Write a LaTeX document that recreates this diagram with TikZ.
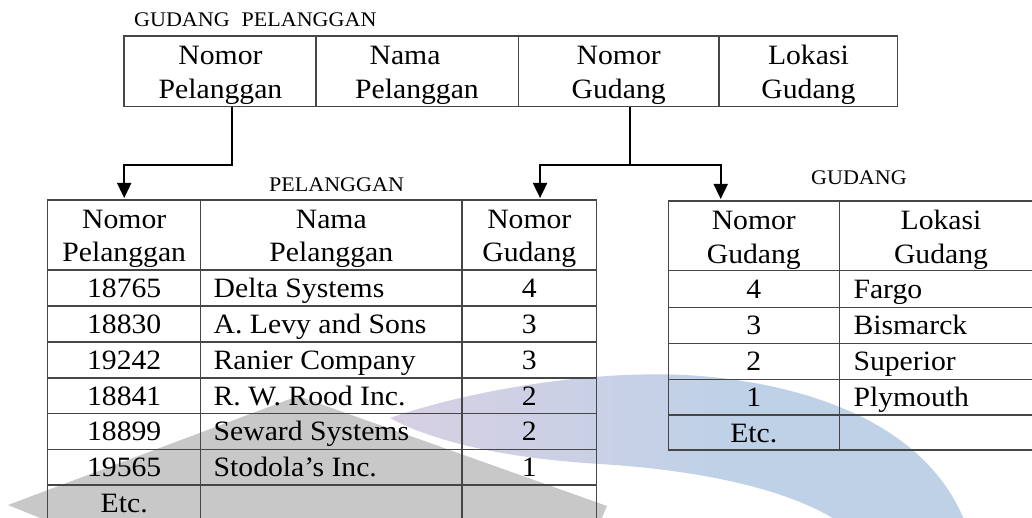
\documentclass[tikz,border=0pt]{standalone}
\usepackage{fontspec}
\setmainfont{Liberation Serif}[FakeStretch=1.06]
\usetikzlibrary{arrows.meta}
\definecolor{tline}{RGB}{70,70,70}
\definecolor{wmgray}{RGB}{200,200,200}
\definecolor{wmpink}{RGB}{230,204,214}
\definecolor{wmpurple}{RGB}{212,208,228}
\definecolor{wmblue}{RGB}{190,209,231}
\pgfdeclarehorizontalshading{arcshade}{100bp}{color(0bp)=(wmpink); color(30bp)=(wmpurple); color(55bp)=(wmblue); color(100bp)=(wmblue)}
\newcommand{\cellnode}[5]{%
  \pgfmathsetmacro{\mycw}{#4-#2}\pgfmathsetmacro{\mych}{#5-#3}%
  \node[cell, minimum width=\mycw pt, minimum height=\mych pt] (#1) at ({(#2+#4)/2},{(#3+#5)/2}) {};}
\begin{document}
\begin{tikzpicture}[x=1pt,y=-1pt,
  cell/.style={draw=tline, line width=1.3pt, inner sep=0pt, outer sep=0pt},
  txt/.style={anchor=base, inner sep=0pt, font=\fontsize{28}{34}\selectfont},
  ltxt/.style={anchor=base west, inner sep=0pt, font=\fontsize{28}{34}\selectfont},
  ttl/.style={anchor=base west, inner sep=0pt, font=\fontsize{20.8}{25}\selectfont},
  conn/.style={line width=1.8pt, draw=black},
  tip/.style={-{Triangle[width=14pt,length=15pt]}}
]
\useasboundingbox (0,0) rectangle (1032,518);
\clip (0,0) rectangle (1032,518);
\fill[white] (0,0) rectangle (1032,518);
% watermark
\fill[wmgray] (8,505) -- (298,396) -- (607,506) -- (590,545) -- (70,530) -- cycle;
\shade[shading=arcshade] (390,418) .. controls (470,390) and (600,368) .. (700,376)
  .. controls (800,384) and (930,420) .. (968,530)
  -- (850,530) .. controls (800,490) and (700,470) .. (600,464)
  .. controls (500,458) and (430,440) .. (390,418) -- cycle;

% titles
\node[ttl] (tgp) at (134,26.7) {GUDANG\hspace{12pt}PELANGGAN};
\node[ttl] (tpl) at (269,191.7) {PELANGGAN};
\node[ttl] (tgd) at (811,185) {GUDANG};

% top table GUDANG PELANGGAN
\cellnode{tp1}{124}{36}{316}{106.7}
\cellnode{tp2}{316}{36}{518.3}{106.7}
\cellnode{tp3}{518.3}{36}{719}{106.7}
\cellnode{tp4}{719}{36}{897.7}{106.7}
\node[txt] (tp1a) at (220.5,65) {Nomor};
\node[txt] (tp1b) at (220.5,99) {Pelanggan};
\node[txt] (tp2a) at (405,65) {Nama};
\node[txt] (tp2b) at (417,99) {Pelanggan};
\node[txt] (tp3a) at (618.7,65) {Nomor};
\node[txt] (tp3b) at (618.7,99) {Gudang};
\node[txt] (tp4a) at (808.4,65) {Lokasi};
\node[txt] (tp4b) at (808.4,99) {Gudang};

% PELANGGAN table
\cellnode{ph1}{47.7}{200}{200.7}{270}
\cellnode{ph2}{200.7}{200}{462}{270}
\cellnode{ph3}{462}{200}{596.7}{270}
\node[txt] (ph1a) at (124.2,228.5) {Nomor};
\node[txt] (ph1b) at (124.2,262) {Pelanggan};
\node[txt] (ph2a) at (331.3,228.5) {Nama};
\node[txt] (ph2b) at (331.3,262) {Pelanggan};
\node[txt] (ph3a) at (529.3,228.5) {Nomor};
\node[txt] (ph3b) at (529.3,262) {Gudang};
\foreach \i/\ya/\yb/\num/\nam/\gd in {
  1/270/306/18765/Delta Systems/4,
  2/306/342/18830/A. Levy and Sons/3,
  3/342/378/19242/Ranier Company/3,
  4/378/413.5/18841/R. W. Rood Inc./2,
  5/413.5/449.3/18899/Seward Systems/2,
  6/449.3/485/19565/Stodola’s Inc./1,
  7/485/521/Etc./{}/{}}{
  \cellnode{pr\i a}{47.7}{\ya}{200.7}{\yb}
  \cellnode{pr\i b}{200.7}{\ya}{462}{\yb}
  \cellnode{pr\i c}{462}{\ya}{596.7}{\yb}
  \node[txt] (pt\i a) at (124.2,\ya+27.4) {\num};
  \node[ltxt] (pt\i b) at (213.5,\ya+27.4) {\nam};
  \node[txt] (pt\i c) at (529.3,\ya+27.4) {\gd};
}

% GUDANG table
\cellnode{gh1}{668.3}{201}{839.3}{270.7}
\cellnode{gh2}{839.3}{201}{1043}{270.7}
\node[txt] (gh1a) at (753.8,230) {Nomor};
\node[txt] (gh1b) at (753.8,263.5) {Gudang};
\node[txt] (gh2a) at (941,230) {Lokasi};
\node[txt] (gh2b) at (941,263.5) {Gudang};
\foreach \i/\ya/\yb/\num/\loc in {
  1/270.7/307.3/4/Fargo,
  2/307.3/343.3/3/Bismarck,
  3/343.3/379.3/2/Superior,
  4/379.3/415/1/Plymouth,
  5/415/450/Etc./{}}{
  \cellnode{gr\i a}{668.3}{\ya}{839.3}{\yb}
  \cellnode{gr\i b}{839.3}{\ya}{1043}{\yb}
  \node[txt] (gt\i a) at (753.8,\ya+27.6) {\num};
  \node[ltxt] (gt\i b) at (853.3,\ya+27.6) {\loc};
}

% connectors
\coordinate (j1) at (232,165);
\coordinate (j2) at (630,165);
\draw[conn,tip] (tp1.south -| j1) -- (j1) -| ([xshift=0pt,yshift=2pt]ph1.north);
\draw[conn] (tp3.south -| j2) -- (j2);
\draw[conn,tip] (j2) -| ([xshift=10.7pt,yshift=2pt]ph3.north);
\draw[conn,tip] (j2) -| ([xshift=-33.1pt,yshift=2pt]gh1.north);
\end{tikzpicture}
\end{document}
